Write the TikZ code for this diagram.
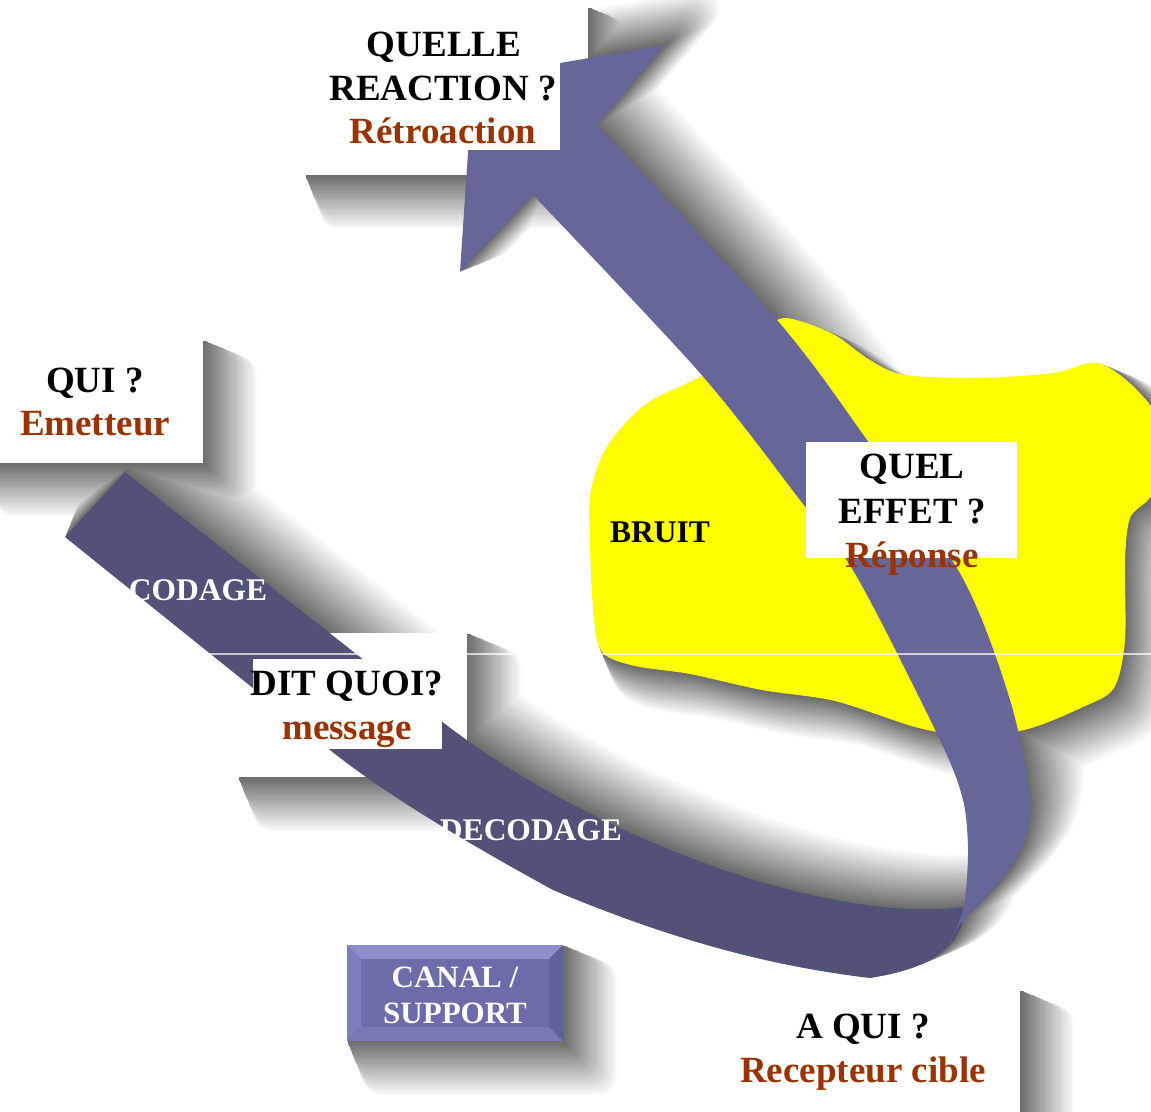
\documentclass[tikz,border=0pt]{standalone}
\usepackage{fontspec}
\setmainfont{Liberation Serif}

\definecolor{bandDark}{HTML}{525279}
\definecolor{bandLight}{HTML}{666699}
\definecolor{noise}{HTML}{FFFF00}
\definecolor{answer}{HTML}{993300}
\definecolor{canalFace}{HTML}{6C6CAA}
\definecolor{canalTop}{HTML}{8E8ECC}
\definecolor{canalLeft}{HTML}{7E7EBE}
\definecolor{canalRight}{HTML}{60609C}
\definecolor{canalBottom}{HTML}{7878B6}

% outline of the dark (outgoing) part of the ribbon
\newcommand\darkbandpath{(65,537) -- (125,472) -- (440,720)
  .. controls (580,830) and (820,925) .. (963,907)
  -- (962,925) .. controls (950,955) and (920,970) .. (870,978)
  .. controls (760,965) and (660,935) .. (553,890)
  .. controls (480,850) and (390,798) .. (330,750) -- cycle}

% outline of the light (returning) part of the ribbon with its arrow head
\newcommand\lightbandpath{(473,78) -- (665,45) -- (597,125)
  -- plot[smooth] coordinates {(597,125) (777,320) (867,440) (962,577)
     (1010,700) (1030,800) (1022,848) (1000,882) (962,922) (948,945)}
  -- plot[smooth] coordinates {(948,945) (958,925) (965,900) (968,850)
     (963,800) (940,740) (857,577) (800,500) (700,373) (533,195)}
  -- (460,272) -- cycle}

% the noise cloud
\newcommand\blobpath{plot[smooth cycle, tension=0.5] coordinates {
  (777,320) (800,321) (835,335) (870,360) (905,375) (980,378) (1053,373)
  (1090,363) (1110,368) (1137,390) (1158,420) (1160,480) (1148,500)
  (1130,518) (1125,560) (1125,640) (1114,688) (1083,707) (1024,730)
  (960,734) (915,727) (835,701) (762,690) (690,674) (635,666) (603,653)
  (594,620) (590,543) (591,490) (608,445) (646,404) (700,377) (740,350)}}

% white cards
\newcommand\emitcard{(-20,340) rectangle (203,463)}
\newcommand\reactcard{(305,7) rectangle (588,175)}
\newcommand\msgcard{(238,633) rectangle (467,777)}
\newcommand\recvcard{(625,990) rectangle (1020,1130)}
\newcommand\canalcard{(347,945) rectangle (563,1041)}

\tikzset{
  big/.style={font=\fontsize{37}{44}\selectfont\bfseries, inner sep=0pt, anchor=base},
  mid/.style={font=\fontsize{31.5}{36}\selectfont\bfseries, inner sep=0pt, anchor=base},
  small/.style={font=\fontsize{31}{36}\selectfont\bfseries, inner sep=0pt, anchor=base, text=white},
  card/.style={fill=white},
}

\begin{document}
\begin{tikzpicture}[x=1pt,y=-1pt]
\useasboundingbox (0,0) rectangle (1151,1111);
\fill[white] (0,0) rectangle (1151,1111);

% soft directional drop shadows: each level is the shape pushed further
% along the light direction and slightly widened, painted pale first and
% darker on top, all shapes level by level so overlaps keep the darker tone
\foreach \k in {1,...,24}{
  \pgfmathsetmacro\f{(25-\k)/24}
  \pgfmathsetmacro\dk{57*(\k/24)^1.0}
  \colorlet{shade}{black!\dk!white}
  \pgfmathsetmacro\cs{0.707*50*\f}
  \pgfmathsetmacro\cw{2*0.38*50*\f}
  \pgfmathsetmacro\rs{0.707*50*\f}
  \pgfmathsetmacro\rw{2*0.38*50*\f}
  \pgfmathsetmacro\bs{0.707*42*\f}
  \pgfmathsetmacro\bw{2*0.38*42*\f}
  \begin{scope}[every path/.style={fill=shade, draw=shade, line join=round}]
    \path[shift={(\rs,-\rs)}, line width=\rw pt] \darkbandpath;
    \path[shift={(\rs,-\rs)}, line width=\rw pt] \lightbandpath;
    \path[shift={(\bs,\bs)}, line width=\bw pt] \blobpath;
    \path[shift={(\cs,\cs)}, line width=\cw pt] \emitcard;
    \path[shift={(\cs,\cs)}, line width=\cw pt] \reactcard;
    \path[shift={(\cs,\cs)}, line width=\cw pt] \msgcard;
    \path[shift={(\cs,\cs)}, line width=\cw pt] \recvcard;
    \path[shift={(\cs,\cs)}, line width=\cw pt] \canalcard;
  \end{scope}
}

% noise cloud
\fill[noise] \blobpath;

% white cards lying under the ribbon
\path[card] \emitcard;
\path[card] \reactcard;
\path[card] \msgcard;
\path[card] \recvcard;

% the ribbon
\fill[bandDark] \darkbandpath;
\fill[bandLight] \lightbandpath;

% faint horizontal seam
\draw[white, opacity=0.7, line width=1.1pt] (0,654) -- (1151,654);

% cards lying over the ribbon
\path[card] (305,7) rectangle (560,150);
\path[card] (253,659) rectangle (442,749);
\path[card] (806,442) rectangle (1017,558);

% labels
\node[big] (reactQ) at (444,56) {QUELLE};
\node[big] (reactR) at (443,100) {REACTION ?};
\node[big, text=answer] (reactA) at (443,143) {Rétroaction};

\node[big] (emitQ) at (95,392) {QUI ?};
\node[big, text=answer] (emitA) at (95,435) {Emetteur};

\node[mid, text=white] (coding) at (198,600) {CODAGE};

\node[big] (msgQ) at (347,695) {DIT QUOI?};
\node[big, text=answer] (msgA) at (347,739) {message};

\node[mid, text=white] (decoding) at (531,840) {DECODAGE};

\node[mid] (noiseLbl) at (660,542) {BRUIT};

\node[big] (effQ1) at (912,478) {QUEL};
\node[big] (effQ2) at (912,523) {EFFET ?};
\node[big, text=answer] (effA) at (912,567) {Réponse};

\node[big] (recvQ) at (863,1038) {A QUI ?};
\node[big, text=answer] (recvA) at (863,1082) {Recepteur cible};

% channel button with bevelled rim
\fill[canalFace] \canalcard;
\fill[canalTop] (347,945) -- (563,945) -- (549,959) -- (361,959) -- cycle;
\fill[canalLeft] (347,945) -- (361,959) -- (361,1027) -- (347,1041) -- cycle;
\fill[canalRight] (563,945) -- (563,1041) -- (549,1027) -- (549,959) -- cycle;
\fill[canalBottom] (347,1041) -- (563,1041) -- (549,1027) -- (361,1027) -- cycle;
\node[small] (canal1) at (455,987) {CANAL /};
\node[small] (canal2) at (455,1023) {SUPPORT};
\end{tikzpicture}
\end{document}
